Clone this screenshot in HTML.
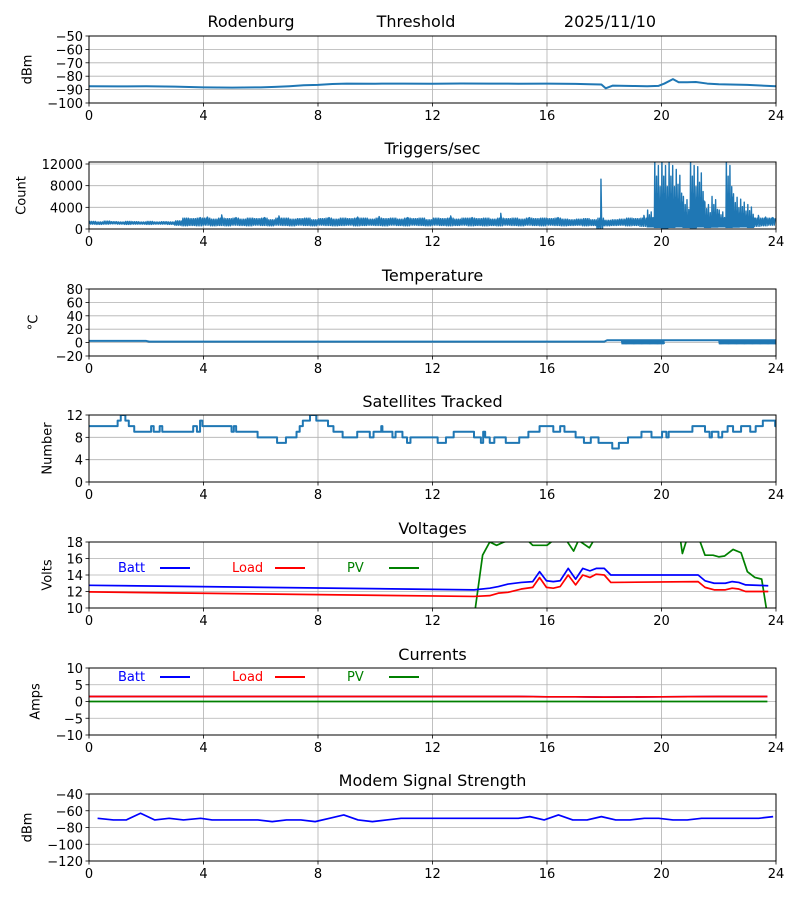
<!DOCTYPE html>
<html><head><meta charset="utf-8"><title>Rodenburg Threshold</title>
<style>
html,body{margin:0;padding:0;background:#fff;}
svg{display:block;font-family:"DejaVu Sans","Liberation Sans",sans-serif;}
</style></head>
<body>
<svg id="chart" width="800" height="900" viewBox="0 0 800 900" xmlns="http://www.w3.org/2000/svg">
<rect width="800" height="900" fill="#fff"/>
</svg>
<script>
// ---------- data ----------
const xTicks = [0,4,8,12,16,20,24];
const dbmT = [0,1,2,3,4,5,6,6.5,7,7.5,8,8.5,9,10,11,12,13,14,15,16,17,17.5,17.9,18.05,18.3,19,19.5,19.9,20.1,20.4,20.6,20.9,21.2,21.6,22,23,24];
const dbmV = [-87.5,-87.6,-87.5,-87.8,-88.3,-88.5,-88.3,-88,-87.5,-86.8,-86.5,-85.8,-85.5,-85.6,-85.5,-85.6,-85.4,-85.5,-85.6,-85.5,-85.7,-86,-86.2,-89,-87,-87.3,-87.5,-87.2,-85.5,-82.2,-84.5,-84.5,-84.3,-85.5,-86,-86.5,-87.5];
const trigHi = [1400,1300,1450,1350,1300,1400,1350,1300, 1400,1300,1350,1300,1500,2000,1900,2100, 2200,1800,2600,1900,2100,1800,2000,1900, 2100,1700,2400,2000,1800,1900,2000,1700, 1900,2100,1800,2000,1900,2200,2000,1800, 2300,1900,2000,1800,2100,1900,2000,1700, 2000,1900,2400,1800,2000,2100,1900,2000, 1800,2900,1900,2000,1800,2100,1900,2000, 1900,2100,1800,1700,1800,1900,1700,9200, 1600,1700,1800,2000,1900,2500,3500,13000, 13000,13000,11000,6000,13000,11500,5000,6000, 3500,13000,6500,5500,4500,2500,2200,2100];
const trigLo = [900,850,900,950,900,850,900,900, 850,900,900,850,700,600,650,600, 700,600,650,600,700,650,600,700, 650,600,700,650,600,700,650,600, 700,650,600,650,700,600,650,700, 650,600,700,650,600,700,650,600, 700,650,600,650,700,600,650,600, 650,600,700,650,600,700,650,600, 700,650,600,650,700,600,650,0, 600,650,700,600,650,500,400,300, 200,300,400,300,250,400,300,350, 400,300,350,400,300,500,600,700];
const tempT = [0,2,2.1,18,18.1,24];
const tempV = [2.5,2.5,1.5,1.5,3.5,3.5];
const tempDropStart = [18.6,22.0];
const tempDropEnd = [20.1,24.0];
const tempDropMin = [-2,-2];
const satT = [0,1.0,1.11,1.27,1.39,1.58,2.17,2.26,2.47,2.56,3.64,3.77,3.88,3.96,4.98,5.06,5.14,5.89,6.57,6.88,7.25,7.36,7.47,7.72,7.94,8.35,8.54,8.86,9.37,9.81,9.94,10.21,10.25,10.6,10.71,10.95,11.11,11.23,12.18,12.47,12.74,13.45,13.69,13.77,13.84,14.0,14.16,14.56,15.03,15.35,15.74,16.22,16.46,16.61,17.0,17.29,17.53,17.8,18.28,18.51,18.83,19.3,19.65,20.02,20.17,20.25,21.08,21.52,21.68,21.76,21.99,22.12,22.31,22.5,22.78,23.1,23.29,23.54,23.97,24];
const satV = [10,11,12,11,10,9,10,9,10,9,10,9,11,10,9,10,9,8,7,8,9,10,11,12,11,10,9,8,9,8,9,10,9,8,9,8,7,8,7,8,9,8,7,9,8,7,8,7,8,9,10,9,10,9,8,7,8,7,6,7,8,9,8,9,8,9,10,9,8,9,8,9,10,9,10,9,10,11,10,10];
const battT = [0,13.45,14.0,14.3,14.64,15.1,15.5,15.74,15.98,16.22,16.46,16.74,17.0,17.25,17.5,17.72,18.0,18.23,21.28,21.52,21.84,22.23,22.47,22.7,22.94,23.73];
const battV = [12.75,12.2,12.4,12.6,12.9,13.1,13.2,14.4,13.3,13.2,13.3,14.8,13.5,14.8,14.5,14.8,14.8,14.0,14.0,13.3,13.0,13.0,13.2,13.1,12.8,12.7];
const loadV = [11.95,11.4,11.5,11.8,11.9,12.3,12.5,13.7,12.5,12.4,12.6,14.0,12.8,14.0,13.7,14.1,14.0,13.1,13.2,12.5,12.2,12.2,12.4,12.3,12.0,12.0];
const pvT = [0,13.3,13.75,14.0,14.24,14.5,14.8,15.2,15.5,15.74,16.0,16.22,16.6,16.93,17.1,17.48,17.65,18.0,19,20.5,20.65,20.73,20.9,21.3,21.52,21.8,22.0,22.2,22.5,22.78,23.0,23.26,23.5,23.66,23.8];
const pvV = [0,5,16.4,18.0,17.6,18.0,18.3,18.6,17.6,17.6,17.6,18.2,18.6,16.9,18.2,17.3,18.3,19,19,19,18.5,16.6,18.5,18.5,16.4,16.4,16.2,16.3,17.1,16.7,14.4,13.7,13.5,10,0];
const curT = [0,4,8,12,15,16,17,18,20,22,23.7];
const curBatt = [1.5,1.5,1.5,1.5,1.5,1.4,1.4,1.3,1.4,1.5,1.5];
const curLoad = [1.5,1.5,1.5,1.5,1.5,1.4,1.4,1.3,1.4,1.5,1.5];
const curPvT = [0,23.7];
const curPv = [0,0];
const modT = [0.3,0.85,1.3,1.8,2.3,2.8,3.3,3.9,4.3,4.9,5.4,5.9,6.4,6.9,7.4,7.9,8.4,8.9,9.4,9.9,10.4,10.9,11.5,12,13,14,15,15.4,15.9,16.4,16.9,17.4,17.9,18.4,18.9,19.4,19.9,20.4,20.9,21.4,22,23,23.4,23.9];
const modV = [-69,-71,-71,-63,-71,-69,-71,-69,-71,-71,-71,-71,-73,-71,-71,-73,-69,-65,-71,-73,-71,-69,-69,-69,-69,-69,-69,-67,-71,-65,-71,-71,-67,-71,-71,-69,-69,-71,-71,-69,-69,-69,-69,-67];

// ---------- helpers ----------
const NS = "http://www.w3.org/2000/svg";
const svg = document.getElementById('chart');
const X0 = 89, X1 = 776;
function xs(h){ return X0 + h*(X1-X0)/24; }
function mk(tag, attrs, parent){
  const e = document.createElementNS(NS, tag);
  for (const k in attrs) e.setAttribute(k, attrs[k]);
  (parent||svg).appendChild(e);
  return e;
}
function txt(s, attrs, parent){ const e = mk('text', attrs, parent); e.textContent = s; return e; }

const panels = [
  {key:'signal', top:36, bot:103, ymin:-100, ymax:-50, ticks:[-100,-90,-80,-70,-60,-50], ylabel:'dBm', lx:28},
  {key:'triggers', top:162, bot:229, ymin:0, ymax:12370, ticks:[0,4000,8000,12000], ylabel:'Count', lx:22, title:'Triggers/sec'},
  {key:'temperature', top:289, bot:356, ymin:-20, ymax:80, ticks:[-20,0,20,40,60,80], ylabel:'°C', lx:34, title:'Temperature'},
  {key:'satellites', top:415, bot:482, ymin:0, ymax:12, ticks:[0,4,8,12], ylabel:'Number', lx:48, title:'Satellites Tracked'},
  {key:'voltages', top:542, bot:608, ymin:10, ymax:18, ticks:[10,12,14,16,18], ylabel:'Volts', lx:48, title:'Voltages'},
  {key:'currents', top:668, bot:735, ymin:-10, ymax:10, ticks:[-10,-5,0,5,10], ylabel:'Amps', lx:36, title:'Currents'},
  {key:'modem', top:794, bot:861, ymin:-120, ymax:-40, ticks:[-120,-100,-80,-60,-40], ylabel:'dBm', lx:28, title:'Modem Signal Strength'}
];
function ysFor(p){ return v => p.bot - (v-p.ymin)*(p.bot-p.top)/(p.ymax-p.ymin); }

function drawAxes(p, i){
  const g = mk('g', {});
  
  
  const ys = ysFor(p);
  const clip = mk('clipPath', {id:'clip'+i}, g);
  mk('rect', {x:X0, y:p.top, width:X1-X0, height:p.bot-p.top}, clip);
  xTicks.forEach(t => {
    const l = mk('line', {x1:xs(t), x2:xs(t), y1:p.top, y2:p.bot, stroke:'#b0b0b0', 'stroke-width':0.8}, g);
    
    
  });
  p.ticks.forEach(t => {
    const l = mk('line', {x1:X0, x2:X1, y1:ys(t), y2:ys(t), stroke:'#b0b0b0', 'stroke-width':0.8}, g);
    
    
  });
  const plot = mk('g', {'clip-path':'url(#clip'+i+')'}, g);
  
  
  const fr = mk('rect', {x:X0, y:p.top, width:X1-X0, height:p.bot-p.top, fill:'none', stroke:'#000', 'stroke-width':1}, g);
  
  
  xTicks.forEach(t => {
    mk('line', {x1:xs(t), x2:xs(t), y1:p.bot, y2:p.bot+3.5, stroke:'#000', 'stroke-width':0.8}, g);
    const tl = txt(String(t), {x:xs(t), y:p.bot+17, 'text-anchor':'middle', 'font-size':'13px', fill:'#000'}, g);
    
    
  });
  p.ticks.forEach(t => {
    mk('line', {x1:X0-3.5, x2:X0, y1:ys(t), y2:ys(t), stroke:'#000', 'stroke-width':0.8}, g);
    const tl = txt(String(t).replace('-', '\u2212'), {x:X0-6, y:ys(t)+5, 'text-anchor':'end', 'font-size':'13px', fill:'#000'}, g);
    
    
  });
  const cy = (p.top+p.bot)/2;
  const yl = txt(p.ylabel, {x:p.lx, y:cy, 'text-anchor':'middle', 'dominant-baseline':'central', 'font-size':'13px', transform:'rotate(-90 '+p.lx+' '+cy+')'}, g);
  
  
  if (p.title){
    const tt = txt(p.title, {x:(X0+X1)/2, y:p.top-8, 'text-anchor':'middle', 'font-size':'16px'}, g);
    
    
  }
  return {plot, ys, g};
}
function path(pts){ return pts.map((q,k)=>(k?'L':'M')+q[0].toFixed(2)+' '+q[1].toFixed(2)).join(' '); }
function line(parent, T, V, ys, color, w, name){
  const pts = T.map((t,k)=>[xs(t), ys(V[k])]);
  const e = mk('path', {d:path(pts), fill:'none', stroke:color, 'stroke-width':w, 'stroke-linejoin':'round'}, parent);
  
  
  return e;
}
function legend(g, y){
  const items = [['Batt','#0000ff',118,160],['Load','#ff0000',232,275],['PV','#008000',347,389]];
  items.forEach(it => {
    const t = txt(it[0], {x:it[2], y:y+5, 'font-size':'13px', fill:it[1]}, g);
    
    
    const l = mk('line', {x1:it[3], x2:it[3]+30, y1:y+1, y2:y+1, stroke:it[1], 'stroke-width':2}, g);
    
    
  });
}

[['Rodenburg',251],['Threshold',416],['2025/11/10',610]].forEach(h => {
  const t = txt(h[0], {x:h[1], y:27, 'text-anchor':'middle', 'font-size':'16px'});
  
  
});

const BLUE = '#1f77b4';
let a = drawAxes(panels[0], 0);
line(a.plot, dbmT, dbmV, a.ys, BLUE, 2, 'signal-line');

a = drawAxes(panels[1], 1);
{
  const T = [], V = [];
  const burstShape = [1, 0.35, 0.75, 0.5, 0.9, 0.3, 0.6, 0.45];
  trigHi.forEach((hi,k) => {
    const lo = trigLo[k];
    const base = Math.min(hi, 2000);
    const t0 = k*0.25;
    const burst = hi > 2500 && k >= 76;
    for (let j = 0; j < 8; j++){
      const t = t0 + j*0.03125;
      if (burst){
        T.push(t); V.push(lo);
        T.push(t + 0.0156); V.push(Math.max(base, hi*burstShape[j]));
      } else {
        T.push(t); V.push(j%2 ? base : lo);
        if (j === 4 && hi > base){ T.push(t + 0.01); V.push(hi); }
      }
    }
  });
  line(a.plot, T, V, a.ys, BLUE, 1.4, 'triggers-line');
}

a = drawAxes(panels[2], 2);
line(a.plot, tempT, tempV, a.ys, BLUE, 2, 'temperature-line');
tempDropStart.forEach((s,k) => {
  const T = [], V = [];
  for (let t = s; t <= tempDropEnd[k]; t += 0.04){ T.push(t); V.push(3.5); T.push(t+0.02); V.push(tempDropMin[k]); }
  line(a.plot, T, V, a.ys, BLUE, 1.2, 'temperature-dropouts');
});

a = drawAxes(panels[3], 3);
{
  const T = [], V = [];
  satT.forEach((t,k) => { if (k>0){ T.push(t); V.push(satV[k-1]); } T.push(t); V.push(satV[k]); });
  line(a.plot, T, V, a.ys, BLUE, 2, 'satellites-line');
}

a = drawAxes(panels[4], 4);
line(a.plot, pvT, pvV, a.ys, '#008000', 1.7, 'pv-voltage-line');
line(a.plot, battT, battV, a.ys, '#0000ff', 1.7, 'batt-voltage-line');
line(a.plot, battT, loadV, a.ys, '#ff0000', 1.7, 'load-voltage-line');
legend(a.g, 567);

a = drawAxes(panels[5], 5);
line(a.plot, curPvT, curPv, a.ys, '#008000', 1.7, 'pv-current-line');
line(a.plot, curT, curBatt, a.ys, '#0000ff', 1.7, 'batt-current-line');
line(a.plot, curT, curLoad, a.ys, '#ff0000', 1.7, 'load-current-line');
legend(a.g, 676);

a = drawAxes(panels[6], 6);
line(a.plot, modT, modV, a.ys, '#0000ff', 1.7, 'modem-signal-line');
</script>
</body></html>
